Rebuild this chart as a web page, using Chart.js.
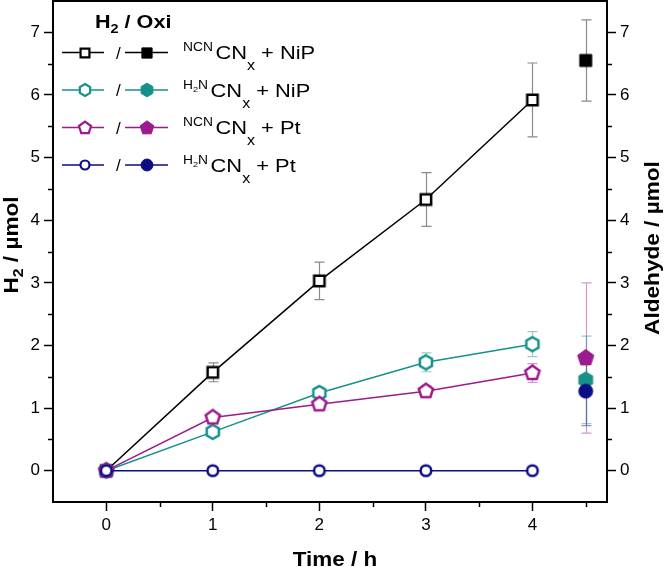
<!DOCTYPE html>
<html>
<head>
<meta charset="utf-8">
<script src="https://cdn.jsdelivr.net/npm/chart.js@4.4.1/dist/chart.umd.min.js"></script>
<style>
  html, body { margin: 0; padding: 0; background: #fff; }
  #wrap { width: 666px; height: 567px; }
</style>
</head>
<body>
<div id="wrap"><canvas id="chart" width="666" height="567"></canvas></div>
<script>
// ---- data ----
const times = [0, 1, 2, 3, 4];
const aldTimes = [4.5];
const xTickVals = [0, 1, 2, 3, 4];
const xMinorVals = [0.5, 1.5, 2.5, 3.5, 4.5];
const yTickVals = [0, 1, 2, 3, 4, 5, 6, 7];
const yMinorVals = [0.5, 1.5, 2.5, 3.5, 4.5, 5.5, 6.5];

// H2 evolution (left axis)
const h2NcnNiP = [0, 1.57, 3.03, 4.33, 5.92];
const h2NcnNiPErr = [0, 0.15, 0.30, 0.43, 0.59];
const h2AmNiP = [0, 0.62, 1.24, 1.73, 2.02];
const h2AmNiPErr = [0, 0.05, 0.09, 0.15, 0.20];
const h2NcnPt = [0, 0.85, 1.06, 1.27, 1.56];
const h2NcnPtErr = [0, 0.05, 0.06, 0.09, 0.15];
const h2AmPt = [0, 0, 0, 0, 0];
const h2AmPtErr = [0, 0, 0, 0, 0];

// aldehyde after 4 h (right axis)
const aldNcnNiP = [6.55];
const aldNcnNiPErr = [0.65];
const aldAmNiP = [1.45];
const aldAmNiPErr = [0.70];
const aldNcnPt = [1.80];
const aldNcnPtErr = [1.20];
const aldAmPt = [1.27];
const aldAmPtErr = [0.55];

const FONT = '"Liberation Sans", Arial, Helvetica, sans-serif';

// marker images (Chart.js has no pentagon/hexagon)
function makeMarker(shape, color, filled, r, lw) {
  const size = Math.ceil(2 * r + lw + 4) + (Math.ceil(2 * r + lw + 4) % 2);
  const c = document.createElement('canvas');
  c.width = c.height = size;
  const g = c.getContext('2d');
  const m = size / 2;
  g.beginPath();
  if (shape === 'square') {
    g.rect(m - r, m - r, 2 * r, 2 * r);
  } else if (shape === 'circle') {
    g.arc(m, m, r, 0, Math.PI * 2);
  } else {
    const n = shape === 'pentagon' ? 5 : 6;
    for (let i = 0; i < n; i++) {
      const a = -Math.PI / 2 + i * 2 * Math.PI / n;
      const px = m + r * Math.cos(a), py = m + r * Math.sin(a);
      if (i === 0) g.moveTo(px, py); else g.lineTo(px, py);
    }
  }
  g.closePath();
  g.fillStyle = filled ? color : '#fff';
  g.fill();
  g.lineJoin = 'miter';
  g.lineWidth = filled ? 1 : lw;
  g.strokeStyle = color;
  g.stroke();
  return c;
}

const series = [
  { color: '#000000', err: '#8a8a8a', shape: 'square', rOpen: 5.2, rFill: 6,
    h2: h2NcnNiP, h2Err: h2NcnNiPErr, ald: aldNcnNiP, aldErr: aldNcnNiPErr,
    sup: [{ t: 'NCN' }], tail: ' + NiP' },
  { color: '#16918a', err: 'rgba(22,145,138,0.45)', shape: 'hexagon', rOpen: 7, rFill: 8,
    h2: h2AmNiP, h2Err: h2AmNiPErr, ald: aldAmNiP, aldErr: aldAmNiPErr,
    sup: [{ t: 'H' }, { t: '2', sub: true }, { t: 'N' }], tail: ' + NiP' },
  { color: '#9c1a90', err: 'rgba(156,26,144,0.45)', shape: 'pentagon', rOpen: 7.5, rFill: 8.5,
    h2: h2NcnPt, h2Err: h2NcnPtErr, ald: aldNcnPt, aldErr: aldNcnPtErr,
    sup: [{ t: 'NCN' }], tail: ' + Pt' },
  { color: '#0c0c84', err: 'rgba(12,12,132,0.45)', shape: 'circle', rOpen: 5.3, rFill: 7,
    h2: h2AmPt, h2Err: h2AmPtErr, ald: aldAmPt, aldErr: aldAmPtErr,
    sup: [{ t: 'H' }, { t: '2', sub: true }, { t: 'N' }], tail: ' + Pt' }
];
series.forEach(s => {
  s.open = makeMarker(s.shape, s.color, false, s.rOpen, 2.5);
  s.filled = makeMarker(s.shape, s.color, true, s.rFill, 1);
  s.openSmall = makeMarker(s.shape, s.color, false, s.rOpen * 0.85, 2.2);
  s.filledSmall = makeMarker(s.shape, s.color, true, s.rFill * 0.85, 1);
});

const toPoints = (xs, ys) => ys.map((y, i) => ({ x: xs[i], y: y }));

// index 0 is drawn on top, so aldehyde points first, then navy .. black
const drawOrder = [3, 2, 1, 0];
const datasets = [];
drawOrder.forEach(i => {
  const s = series[i];
  datasets.push({
    data: toPoints(aldTimes, s.ald), errors: s.aldErr, errColor: s.err,
    yAxisID: 'y2', showLine: false,
    pointStyle: s.filled, pointRadius: 7, borderColor: s.color, backgroundColor: s.color
  });
});
drawOrder.forEach(i => {
  const s = series[i];
  datasets.push({
    data: toPoints(times, s.h2), errors: s.h2Err, errColor: s.err,
    yAxisID: 'y', showLine: true, borderWidth: 1.5, tension: 0,
    pointStyle: s.open, pointRadius: 7, borderColor: s.color, backgroundColor: '#fff'
  });
});

function drawRuns(ctx, x, y, runs, sx) {
  ctx.save();
  ctx.translate(x, y);
  ctx.scale(sx, 1);
  let cx = 0;
  runs.forEach(r => {
    ctx.font = (r.bold ? 'bold ' : '') + r.size + 'px ' + FONT;
    ctx.fillText(r.t, cx, r.dy || 0);
    cx += ctx.measureText(r.t).width;
  });
  ctx.restore();
}
function runsWidth(ctx, runs, sx) {
  let w = 0;
  runs.forEach(r => {
    ctx.font = (r.bold ? 'bold ' : '') + r.size + 'px ' + FONT;
    w += ctx.measureText(r.t).width;
  });
  return w * sx;
}

const errorBars = {
  id: 'errorBars',
  beforeDatasetsDraw(chart) {
    const ctx = chart.ctx;
    const xs = chart.scales.x;
    chart.data.datasets.forEach((ds, i) => {
      if (!ds.errors) return;
      const ys = chart.scales[ds.yAxisID];
      ctx.save();
      ctx.strokeStyle = ds.errColor;
      ctx.lineWidth = 1.2;
      ds.data.forEach((p, j) => {
        const e = ds.errors[j];
        if (!e) return;
        const x = Math.round(xs.getPixelForValue(p.x)) + 0.5;
        const y1 = ys.getPixelForValue(p.y + e);
        const y2 = ys.getPixelForValue(p.y - e);
        ctx.beginPath();
        ctx.moveTo(x, y1); ctx.lineTo(x, y2);
        ctx.moveTo(x - 5, y1); ctx.lineTo(x + 5, y1);
        ctx.moveTo(x - 5, y2); ctx.lineTo(x + 5, y2);
        ctx.stroke();
      });
      ctx.restore();
    });
  }
};

const frame = {
  id: 'frame',
  afterDraw(chart) {
    const ctx = chart.ctx;
    const a = chart.chartArea;
    const xs = chart.scales.x, yl = chart.scales.y, yr = chart.scales.y2;
    ctx.save();
    ctx.strokeStyle = '#000';
    ctx.lineWidth = 2;
    ctx.strokeRect(a.left, a.top, a.right - a.left, a.bottom - a.top);

    // minor ticks
    ctx.lineWidth = 1.5;
    ctx.beginPath();
    xMinorVals.forEach(v => {
      const x = Math.round(xs.getPixelForValue(v)) + 0.5;
      ctx.moveTo(x, a.bottom); ctx.lineTo(x, a.bottom + 5);
    });
    yMinorVals.forEach(v => {
      const y = Math.round(yl.getPixelForValue(v)) + 0.5;
      ctx.moveTo(a.left - 5, y); ctx.lineTo(a.left, y);
      const y2 = Math.round(yr.getPixelForValue(v)) + 0.5;
      ctx.moveTo(a.right, y2); ctx.lineTo(a.right + 5, y2);
    });
    ctx.stroke();

    ctx.fillStyle = '#000';
    ctx.textBaseline = 'alphabetic';
    ctx.textAlign = 'left';

    // axis titles
    const bottomRuns = [{ t: 'Time / h', size: 21, bold: true }];
    const bw = runsWidth(ctx, bottomRuns, 1.07);
    drawRuns(ctx, (a.left + a.right) / 2 - bw / 2 + 5, 566, bottomRuns, 1.07);

    const leftRuns = [
      { t: 'H', size: 20, bold: true },
      { t: '2', size: 14, bold: true, dy: 5 },
      { t: ' / \u00b5mol', size: 20, bold: true }
    ];
    ctx.save();
    ctx.translate(18, 245);
    ctx.rotate(-Math.PI / 2);
    drawRuns(ctx, -runsWidth(ctx, leftRuns, 1.13) / 2, 0, leftRuns, 1.13);
    ctx.restore();

    const rightRuns = [{ t: 'Aldehyde / \u00b5mol', size: 20, bold: true }];
    ctx.save();
    ctx.translate(659, 248);
    ctx.rotate(-Math.PI / 2);
    drawRuns(ctx, -runsWidth(ctx, rightRuns, 1.13) / 2, 0, rightRuns, 1.13);
    ctx.restore();

    // legend
    drawRuns(ctx, 95, 28, [
      { t: 'H', size: 18, bold: true },
      { t: '2', size: 12, bold: true, dy: 5 },
      { t: ' / Oxi', size: 18, bold: true }
    ], 1.2);

    series.forEach((s, i) => {
      const yc = 52.5 + i * 37.5;
      ctx.strokeStyle = s.color;
      ctx.lineWidth = 1.5;
      ctx.beginPath();
      ctx.moveTo(62, yc); ctx.lineTo(104, yc);
      ctx.moveTo(125, yc); ctx.lineTo(168, yc);
      ctx.stroke();
      ctx.drawImage(s.openSmall, Math.round(85 - s.openSmall.width / 2), Math.round(yc - s.openSmall.height / 2));
      ctx.drawImage(s.filledSmall, Math.round(147 - s.filledSmall.width / 2), Math.round(yc - s.filledSmall.height / 2));
      ctx.fillStyle = '#000';
      drawRuns(ctx, 116, yc + 6, [{ t: '/', size: 17 }], 1);
      const runs = s.sup.map(p => p.sub
        ? { t: p.t, size: 8, dy: -5 }
        : { t: p.t, size: 12, dy: -8 });
      runs.push({ t: '\u2009', size: 11 });
      runs.push({ t: 'CN', size: 19 });
      runs.push({ t: 'x', size: 14, dy: 11 });
      runs.push({ t: s.tail, size: 19 });
      drawRuns(ctx, 183, yc + 6.5, runs, 1.15);
    });
    ctx.restore();
  }
};

const tickFont = { family: FONT, size: 17 };
const gridOpts = {
  display: true, drawOnChartArea: false, drawTicks: true,
  tickLength: 9, tickWidth: 1.5, color: '#000', tickColor: '#000'
};
const setTicks = vals => s => { s.ticks = vals.map(v => ({ value: v })); };

new Chart(document.getElementById('chart'), {
  type: 'line',
  data: { datasets: datasets },
  options: {
    responsive: false,
    animation: false,
    events: [],
    layout: { padding: { top: 1, left: 0, right: 0, bottom: 0 }, autoPadding: false },
    plugins: { legend: { display: false }, tooltip: { enabled: false } },
    scales: {
      x: {
        type: 'linear', min: -0.5, max: 4.7,
        afterBuildTicks: setTicks(xTickVals),
        ticks: { font: tickFont, color: '#000', padding: 4, autoSkip: false, maxRotation: 0 },
        grid: gridOpts, border: { display: false },
        afterFit: s => { s.height = 65; s.paddingLeft = 0; s.paddingRight = 0; }
      },
      y: {
        type: 'linear', position: 'left', min: -0.5, max: 7.5,
        afterBuildTicks: setTicks(yTickVals),
        ticks: { font: tickFont, color: '#000', padding: 4, autoSkip: false },
        grid: gridOpts, border: { display: false },
        afterFit: s => { s.width = 53; s.paddingTop = 0; s.paddingBottom = 0; }
      },
      y2: {
        type: 'linear', position: 'right', min: -0.5, max: 7.5,
        afterBuildTicks: setTicks(yTickVals),
        ticks: { font: tickFont, color: '#000', padding: 4, autoSkip: false },
        grid: gridOpts, border: { display: false },
        afterFit: s => { s.width = 59; s.paddingTop = 0; s.paddingBottom = 0; }
      }
    }
  },
  plugins: [errorBars, frame]
});
</script>
</body>
</html>
